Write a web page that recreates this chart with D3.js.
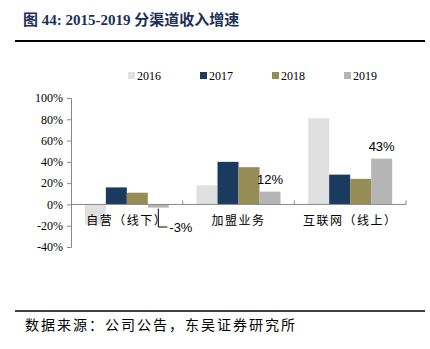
<!DOCTYPE html>
<html>
<head>
<meta charset="utf-8">
<script src="https://cdn.jsdelivr.net/npm/d3@7"></script>
<style>
  body { margin: 0; background: #fff; }
  svg { display: block; }
  .tick text { font-family: "Liberation Serif", "Times New Roman", serif; font-size: 12px; fill: #000; }
</style>
</head>
<body>
<svg id="chart" width="430" height="349"></svg>
<script>
const categories = ["自营（线下）", "加盟业务", "互联网（线上）"];
const years = ["2016", "2017", "2018", "2019"];
const growth2016 = [-19, 18, 81];
const growth2017 = [16, 40, 28];
const growth2018 = [11, 35, 24];
const growth2019 = [-3, 12, 43];
const yTicks = [-40, -20, 0, 20, 40, 60, 80, 100];
const colors = ["#e0e0e0", "#1b3a60", "#958c56", "#b5b5b5"];

const series = [growth2016, growth2017, growth2018, growth2019];

const svg = d3.select("#chart");

// title + rule
svg.append("text")
  .attr("x", 23).attr("y", 25)
  .attr("font-family", "Liberation Serif, Noto Sans CJK SC, serif")
  .attr("font-weight", "bold")
  .attr("font-size", 15)
  .attr("fill", "#1c2f57")
  .text("图 44:  2015-2019 分渠道收入增速");

svg.append("line")
  .attr("x1", 15).attr("x2", 425).attr("y1", 41).attr("y2", 41)
  .attr("stroke", "#000").attr("stroke-width", 2);

// footer
svg.append("line")
  .attr("x1", 15).attr("x2", 425).attr("y1", 311).attr("y2", 311)
  .attr("stroke", "#000").attr("stroke-width", 1.5);

svg.append("text")
  .attr("x", 25).attr("y", 330)
  .attr("font-family", "Noto Sans CJK SC, sans-serif")
  .attr("font-size", 14)
  .attr("letter-spacing", 2)
  .attr("fill", "#000")
  .text("数据来源：公司公告，东吴证券研究所");

// scales
const y = d3.scaleLinear().domain([-40, 100]).range([247, 98]);
const x0 = d3.scaleBand().domain(categories).range([71, 406]);
const x1 = d3.scaleBand().domain(years).range([0, x0.bandwidth()])
  .paddingInner(0).paddingOuter(0.66);

// y axis
const yAxis = svg.append("g")
  .attr("transform", "translate(71,0)")
  .call(d3.axisLeft(y).tickValues(yTicks).tickSize(4).tickPadding(4)
    .tickFormat(d => d + "%"));
yAxis.selectAll("path, line").attr("stroke", "#888");

// bars
const groups = svg.append("g").selectAll("g")
  .data(categories)
  .enter().append("g")
  .attr("transform", d => "translate(" + x0(d) + ",0)");

groups.selectAll("rect")
  .data((c, i) => years.map((yr, j) => ({ year: yr, value: series[j][i], j: j })))
  .enter().append("rect")
  .attr("x", d => x1(d.year))
  .attr("width", x1.bandwidth())
  .attr("y", d => y(Math.max(0, d.value)))
  .attr("height", d => Math.abs(y(d.value) - y(0)))
  .attr("fill", d => colors[d.j]);

// x baseline
svg.append("line")
  .attr("x1", 71).attr("x2", 406).attr("y1", y(0)).attr("y2", y(0))
  .attr("stroke", "#888");

svg.append("g").selectAll("line")
  .data(categories)
  .enter().append("line")
  .attr("x1", d => x0(d) + x0.bandwidth())
  .attr("x2", d => x0(d) + x0.bandwidth())
  .attr("y1", y(0)).attr("y2", y(0) - 4)
  .attr("stroke", "#888");

// category labels
svg.append("g").selectAll("text")
  .data(categories)
  .enter().append("text")
  .attr("x", d => x0(d) + x0.bandwidth() / 2)
  .attr("y", 225)
  .attr("text-anchor", "middle")
  .attr("font-family", "Noto Sans CJK SC, sans-serif")
  .attr("font-size", 12)
  .attr("letter-spacing", 1.5)
  .attr("fill", "#000")
  .text(d => d);

// 2019 value labels
const lblFont = "Liberation Sans, Arial, sans-serif";
const c0 = categories[0];
const lx = x0(c0) + x1("2019") + x1.bandwidth() / 2;
svg.append("path")
  .attr("d", "M" + lx + "," + (y(growth2019[0]) + 1) + "V" + 227 + "H" + (lx + 9))
  .attr("fill", "none").attr("stroke", "#000").attr("stroke-width", 1);

svg.append("text")
  .attr("x", lx + 11).attr("y", 232)
  .attr("font-family", lblFont).attr("font-size", 13)
  .text(growth2019[0] + "%");

[1, 2].forEach(i => {
  const cx = x0(categories[i]) + x1("2019") + x1.bandwidth() / 2;
  svg.append("text")
    .attr("x", cx).attr("y", y(growth2019[i]) - 8)
    .attr("text-anchor", "middle")
    .attr("font-family", lblFont).attr("font-size", 13)
    .text(growth2019[i] + "%");
});

// legend
const legend = svg.append("g").selectAll("g")
  .data(years)
  .enter().append("g")
  .attr("transform", (d, i) => "translate(" + (128 + i * 72) + ",72)");
legend.append("rect")
  .attr("width", 7).attr("height", 7)
  .attr("fill", (d, i) => colors[i]);
legend.append("text")
  .attr("x", 9).attr("y", 7.5)
  .attr("font-family", "Liberation Serif, Times New Roman, serif")
  .attr("font-size", 12)
  .text(d => d);
</script>
</body>
</html>
